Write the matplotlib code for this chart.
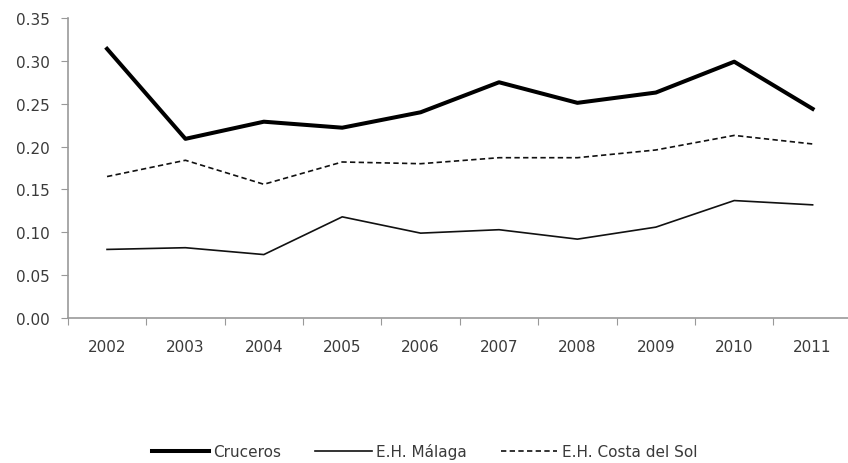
import matplotlib
matplotlib.use("Agg")
import matplotlib.pyplot as plt

years = ["2002", "2003", "2004", "2005", "2006", "2007", "2008", "2009", "2010", "2011"]
cruceros = [0.314, 0.209, 0.229, 0.222, 0.240, 0.275, 0.251, 0.263, 0.299, 0.244]
eh_malaga = [0.080, 0.082, 0.074, 0.118, 0.099, 0.103, 0.092, 0.106, 0.137, 0.132]
eh_costa = [0.165, 0.184, 0.156, 0.182, 0.180, 0.187, 0.187, 0.196, 0.213, 0.203]
y_ticks = [0.00, 0.05, 0.10, 0.15, 0.20, 0.25, 0.30, 0.35]

plt.rcParams["font.family"] = ["DejaVu Sans"]
FS = 11
TXT = "#3a3a3a"

fig = plt.figure(figsize=(8.48, 4.64), dpi=100)
ax = fig.add_axes([0.080, 0.3125, 0.9245, 0.6466])

x = list(range(len(years)))
ax.plot(x, cruceros, color="black", lw=2.9, label="Cruceros")
ax.plot(x, eh_malaga, color="#111111", lw=1.2, label="E.H. Málaga")
ax.plot(x, eh_costa, color="#111111", lw=1.2, ls=(0, (3.2, 2.0)), label="E.H. Costa del Sol")

ax.set_xlim(-0.5, len(years) - 0.5)
ax.set_ylim(0, 0.35)
ax.set_yticks(y_ticks)
ax.set_yticklabels([f"{v:.2f}" for v in y_ticks])
ax.set_xticks([i - 0.5 for i in range(len(years))])
ax.set_xticklabels([])
ax.set_xticks(x, minor=True)
ax.set_xticklabels(years, minor=True)
ax.tick_params(axis="x", which="minor", length=0, pad=15)
ax.tick_params(axis="x", which="major", length=5, color="#999999", direction="out")
ax.tick_params(axis="y", length=5, color="#999999", direction="out", pad=8)
ax.tick_params(axis="both", which="both", labelsize=FS, labelcolor=TXT)

for side in ("top", "right"):
    ax.spines[side].set_visible(False)
for side in ("left", "bottom"):
    ax.spines[side].set_color("#999999")
    ax.spines[side].set_linewidth(1.2)

fig.legend(loc="center", bbox_to_anchor=(0.501, 0.026), ncol=3, frameon=False,
           fontsize=FS, handlelength=3.7, handletextpad=0.3, columnspacing=2.2,
           labelcolor=TXT)

fig.savefig("out.png", dpi=100)
